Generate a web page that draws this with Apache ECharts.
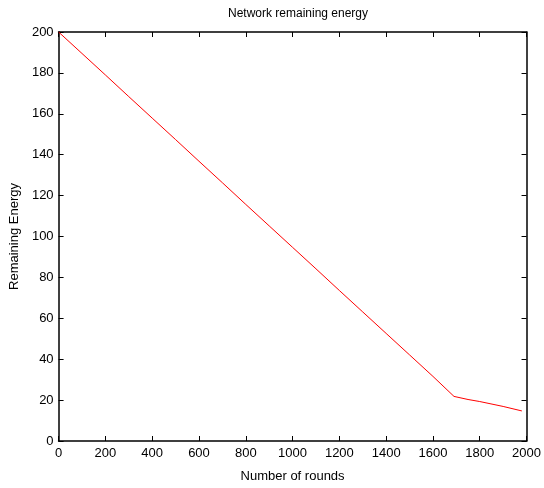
<!DOCTYPE html>
<html><head><meta charset="utf-8">
<script src="https://cdn.jsdelivr.net/npm/echarts@6/dist/echarts.min.js"></script>
<style>html,body{margin:0;padding:0;background:#fff}#c{width:544px;height:488px}</style>
</head><body><div id="c"></div>
<script>
const rounds = [0, 100, 200, 300, 400, 500, 600, 700, 800, 900, 1000, 1100, 1200, 1300, 1400, 1500, 1600, 1690, 1750, 1800, 1900, 1980];
const energy = [200, 189.5, 179, 168.4, 157.9, 147.4, 136.8, 126.3, 115.7, 105.2, 94.7, 84.2, 73.6, 63.1, 52.6, 42.1, 31.6, 21.8, 20.3, 19.3, 16.9, 14.7];
const xTicks = [0, 200, 400, 600, 800, 1000, 1200, 1400, 1600, 1800, 2000];
const yTicks = [0, 20, 40, 60, 80, 100, 120, 140, 160, 180, 200];

const font = 'Liberation Sans, Arial, sans-serif';
const chart = echarts.init(document.getElementById('c'), null, {renderer: 'canvas'});
const axisLine = {show: true, onZero: false, lineStyle: {color: '#000', width: 1.5}};
const tick = {show: true, inside: true, length: 5, lineStyle: {color: '#000', width: 1}};
chart.setOption({
  animation: false,
  backgroundColor: '#fff',
  title: {text: 'Network remaining energy', left: 293, textAlign: 'center', top: 3,
    textStyle: {fontFamily: font, fontSize: 12, fontWeight: 'normal', color: '#000'}},
  grid: {left: 57, right: 15, top: 32, bottom: 46, containLabel: false},
  xAxis: [{
    type: 'value', min: xTicks[0], max: xTicks[xTicks.length - 1], interval: xTicks[1] - xTicks[0],
    position: 'bottom', name: 'Number of rounds', nameLocation: 'middle', nameGap: 29,
    nameTextStyle: {fontFamily: font, fontSize: 13, color: '#000'},
    axisLine, axisTick: tick, splitLine: {show: false},
    axisLabel: {fontFamily: font, fontSize: 13, color: '#000', margin: 6, formatter: v => String(v)}
  }, {
    type: 'value', min: xTicks[0], max: xTicks[xTicks.length - 1], interval: xTicks[1] - xTicks[0],
    position: 'top', axisLine, axisTick: tick, splitLine: {show: false}, axisLabel: {show: false}
  }],
  yAxis: [{
    type: 'value', min: yTicks[0], max: yTicks[yTicks.length - 1], interval: yTicks[1] - yTicks[0],
    position: 'left', name: 'Remaining Energy', nameLocation: 'middle', nameGap: 32,
    nameTextStyle: {fontFamily: font, fontSize: 13, color: '#000'},
    axisLine, axisTick: tick, splitLine: {show: false},
    axisLabel: {fontFamily: font, fontSize: 13, color: '#000', margin: 5, formatter: v => String(v)}
  }, {
    type: 'value', min: yTicks[0], max: yTicks[yTicks.length - 1], interval: yTicks[1] - yTicks[0],
    position: 'right', axisLine, axisTick: tick, splitLine: {show: false}, axisLabel: {show: false}
  }],
  series: [{
    type: 'line', xAxisIndex: 0, yAxisIndex: 0, showSymbol: false, symbol: 'none',
    data: rounds.map((r, i) => [r, energy[i]]),
    lineStyle: {color: '#ff0000', width: 1}
  }]
});
</script></body></html>
